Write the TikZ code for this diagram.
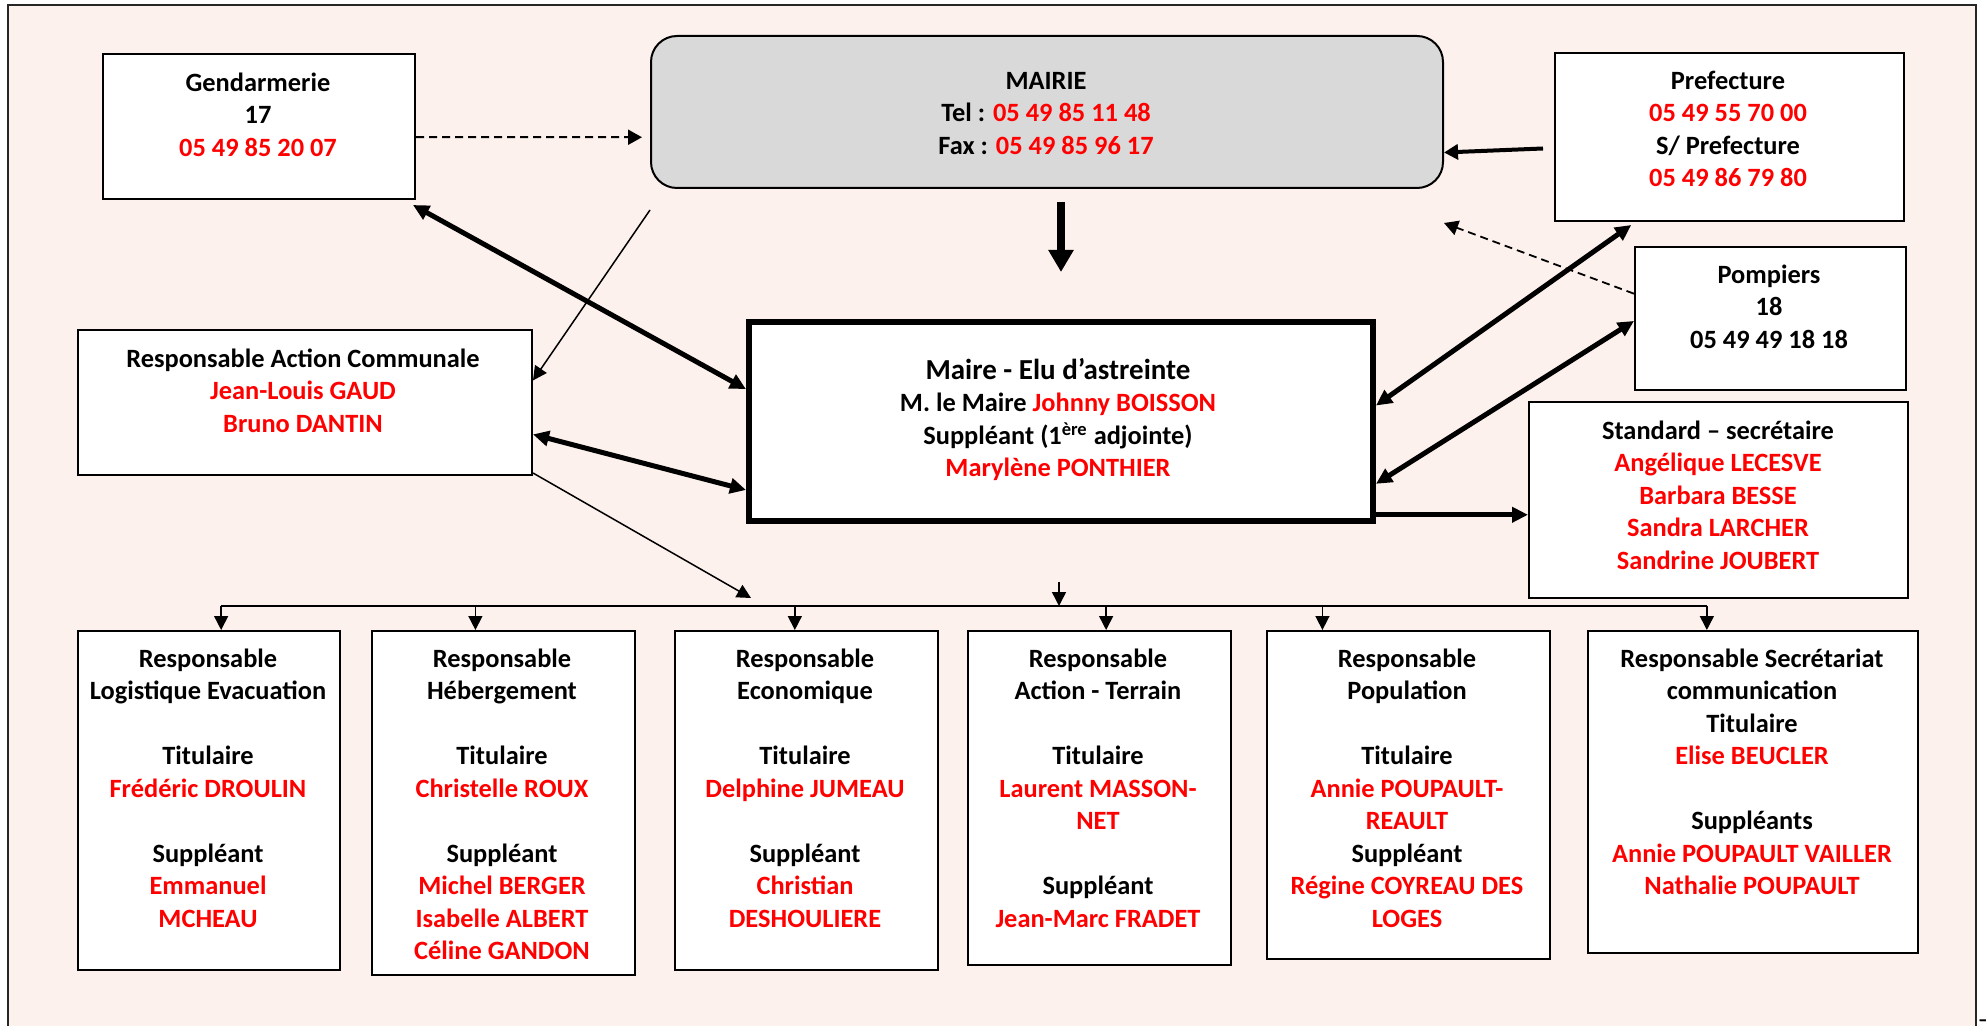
\documentclass[tikz,border=0pt]{standalone}
\usepackage{fontspec}
\setmainfont{Carlito}
\usetikzlibrary{arrows.meta,calc}
\definecolor{bgpink}{RGB}{252,241,236}
\definecolor{boxgray}{RGB}{217,217,217}
\definecolor{tred}{RGB}{255,0,0}
\newcommand\bk[1]{\strut#1}
\newcommand\rd[1]{\strut\textcolor{tred}{#1}}
\begin{document}
\begin{tikzpicture}[x=0.5pt,y=-0.5pt,
  box/.style={draw=black, line width=1pt, fill=white, inner sep=0pt, anchor=north west},
  txt/.style={align=center, inner sep=0pt, anchor=north, font=\fontsize{13.2}{16.25}\selectfont\bfseries},
  arrThin/.style={line width=0.75pt, -{Triangle[length=7pt,width=7pt]}},
  arrDash/.style={line width=1pt, dash pattern=on 4pt off 2.5pt, -{Triangle[length=7pt,width=7.5pt]}},
  arrDbl/.style={line width=2.5pt, {Triangle[length=8pt,width=7.5pt]}-{Triangle[length=8pt,width=7.5pt]}},
  arrOne/.style={line width=2.5pt, -{Triangle[length=8pt,width=7.5pt]}},
  arrBig/.style={line width=4pt, -{Triangle[length=11pt,width=12pt]}}
]
\useasboundingbox (0,0) rectangle (1986,1026);
\fill[white] (0,0) rectangle (1986,1026);
\draw[line width=1pt, draw=black!85, fill=bgpink] (8,5) rectangle (1976,1060);
\node[anchor=north west, inner sep=0pt, font=\fontsize{13}{15}\selectfont] (pg) at (1978,1019) {7};

% boxes
\node[box, minimum width=156pt, minimum height=72.5pt] (gend) at (102,53) {};
\node[box, fill=boxgray, rounded corners=13pt, minimum width=396pt, minimum height=76pt] (mairie) at (650,35) {};
\node[box, minimum width=174.5pt, minimum height=84pt] (pref) at (1554,52) {};
\node[box, minimum width=135.5pt, minimum height=71.5pt] (pomp) at (1634,246) {};
\node[box, minimum width=227pt, minimum height=72.5pt] (rac) at (77,329) {};
\node[box, line width=3pt, minimum width=312pt, minimum height=99.5pt] (maire) at (746,319) {};
\node[box, minimum width=189.5pt, minimum height=98pt] (std) at (1528,401) {};
\node[box, minimum width=131pt, minimum height=169.5pt] (b1) at (77,630) {};
\node[box, minimum width=131.5pt, minimum height=172pt] (b2) at (371,630) {};
\node[box, minimum width=131.5pt, minimum height=169.5pt] (b3) at (674,630) {};
\node[box, minimum width=131.5pt, minimum height=167pt] (b4) at (967,630) {};
\node[box, minimum width=141.5pt, minimum height=164pt] (b5) at (1266,630) {};
\node[box, minimum width=165pt, minimum height=161pt] (b6) at (1587,630) {};

% texts
\node[txt] (gendT) at (258,68) {\bk{Gendarmerie}\\ \bk{17}\\ \rd{05 49 85 20 07}};
\node[txt] (mairieT) at (1046,66) {\bk{MAIRIE}\\ \bk{Tel : \textcolor{tred}{05 49 85 11 48}}\\ \bk{Fax : \textcolor{tred}{05 49 85 96 17}}};
\node[txt] (prefT) at (1728,66) {\bk{Prefecture}\\ \rd{05 49 55 70 00}\\ \bk{S/ Prefecture}\\ \rd{05 49 86 79 80}};
\node[txt] (pompT) at (1769,260) {\bk{Pompiers}\\ \bk{18}\\ \bk{05 49 49 18 18}};
\node[txt] (racT) at (303,344) {\bk{Responsable Action Communale}\\ \rd{Jean-Louis GAUD}\\ \rd{Bruno DANTIN}};
\node[txt] (maireT) at (1058,356) {{\fontsize{14.5}{16.25}\selectfont\strut Maire - Elu d’astreinte}\\ \bk{M. le Maire \textcolor{tred}{Johnny BOISSON}}\\ \bk{Suppléant (1\textsuperscript{ère} adjointe)}\\ \rd{Marylène PONTHIER}};
\node[txt] (stdT) at (1718,416) {\bk{Standard – secrétaire}\\ \rd{Angélique LECESVE}\\ \rd{Barbara BESSE}\\ \rd{Sandra LARCHER}\\ \rd{Sandrine JOUBERT}};
\node[txt] (b1T) at (208,644) {\bk{Responsable}\\ \bk{Logistique Evacuation}\\ \strut\\ \bk{Titulaire}\\ \rd{Frédéric DROULIN}\\ \strut\\ \bk{Suppléant}\\ \rd{Emmanuel}\\ \rd{MCHEAU}};
\node[txt] (b2T) at (502,644) {\bk{Responsable}\\ \bk{Hébergement}\\ \strut\\ \bk{Titulaire}\\ \rd{Christelle ROUX}\\ \strut\\ \bk{Suppléant}\\ \rd{Michel BERGER}\\ \rd{Isabelle ALBERT}\\ \rd{Céline GANDON}};
\node[txt] (b3T) at (805,644) {\bk{Responsable}\\ \bk{Economique}\\ \strut\\ \bk{Titulaire}\\ \rd{Delphine JUMEAU}\\ \strut\\ \bk{Suppléant}\\ \rd{Christian}\\ \rd{DESHOULIERE}};
\node[txt] (b4T) at (1098,644) {\bk{Responsable}\\ \bk{Action - Terrain}\\ \strut\\ \bk{Titulaire}\\ \rd{Laurent MASSON-}\\ \rd{NET}\\ \strut\\ \bk{Suppléant}\\ \rd{Jean-Marc FRADET}};
\node[txt] (b5T) at (1407,644) {\bk{Responsable}\\ \bk{Population}\\ \strut\\ \bk{Titulaire}\\ \rd{Annie POUPAULT-}\\ \rd{REAULT}\\ \bk{Suppléant}\\ \rd{Régine COYREAU DES}\\ \rd{LOGES}};
\node[txt] (b6T) at (1752,644) {\bk{Responsable Secrétariat}\\ \bk{communication}\\ \bk{Titulaire}\\ \rd{Elise BEUCLER}\\ \strut\\ \bk{Suppléants}\\ \rd{Annie POUPAULT VAILLER}\\ \rd{Nathalie POUPAULT}};

% free coordinates
\coordinate (pdash) at (1444,223);
\coordinate (racend) at (751,598);
\coordinate (bus) at (1059,606);
\coordinate (mstd) at ($(maire.north east)!0.955!(maire.south east)$);

% connectors
\draw[arrDash, shorten >=4pt] ($(gend.north east)!0.572!(gend.south east)$) -- ($(mairie.north west)!0.664!(mairie.south west)$);
\draw[line width=2pt, -{Triangle[length=7pt,width=7.5pt]}, shorten <=5.5pt] ($(pref.north west)!0.565!(pref.south west)$) -- ($(mairie.north east)!0.763!(mairie.south east)$);
\draw[arrBig] ($(maire.north)+(0,-117)$) -- ($(maire.north)+(0,-47)$);
\draw[arrThin] ($(mairie.south west)+(0,21)$) -- ($(rac.north east)!0.35!(rac.south east)$);
\draw[arrDbl] ($(gend.south east)+(-3,5)$) -- ($(maire.north west)!0.342!(maire.south west)$);
\draw[arrDbl] ($(rac.north east)!0.717!(rac.south east)$) -- ($(maire.north west)!0.834!(maire.south west)$);
\draw[arrThin] ($(rac.south east)+(0,-3)$) -- (racend);
\draw[arrDbl] ($(maire.north east)!0.422!(maire.south east)$) -- ($(pref.south west)!0.22!(pref.south east)+(0,3)$);
\draw[arrDbl] ($(maire.north east)!0.804!(maire.south east)$) -- ($(pomp.north west)!0.517!(pomp.south west)$);
\draw[arrOne] (mstd) -- (std.west |- mstd);
\draw[arrDash, line width=0.9pt] ($(pomp.north west)!0.329!(pomp.south west)$) -- (pdash);

% bus
\coordinate (t1) at ($(b1.north west)!0.546!(b1.north east)$);
\coordinate (t2) at ($(b2.north west)!0.394!(b2.north east)$);
\coordinate (t3) at ($(b3.north west)!0.456!(b3.north east)$);
\coordinate (t4) at ($(b4.north west)!0.525!(b4.north east)$);
\coordinate (t5) at ($(b5.north west)!0.198!(b5.north east)$);
\coordinate (t6) at ($(b6.north west)!0.361!(b6.north east)$);
\draw[line width=0.75pt] (t1 |- bus) -- (t6 |- bus);
\draw[arrThin] ($(bus)+(0,-24)$) -- (bus);
\foreach \t in {t1,t2,t3,t4,t5,t6} {
  \draw[arrThin] (\t |- bus) -- (\t);
}
\end{tikzpicture}
\end{document}
